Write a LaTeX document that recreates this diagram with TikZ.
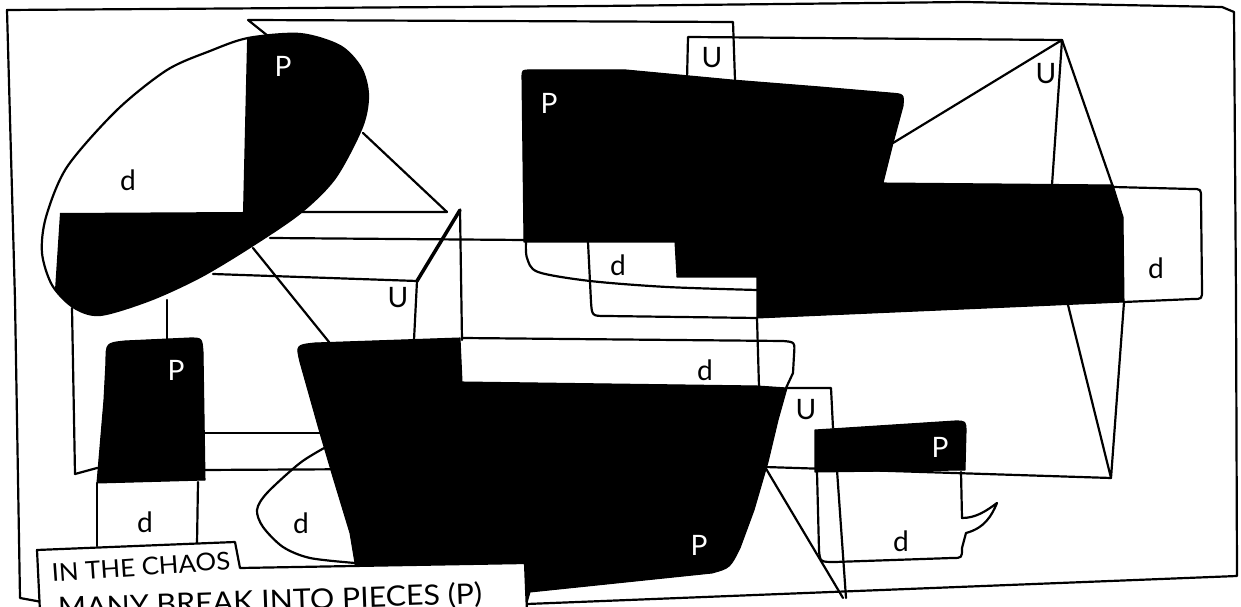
\documentclass[tikz,border=0pt]{standalone}
\usepackage{fontspec}
\setmainfont{Lato}
\tikzset{
  ink/.style={line width=1.25pt, line cap=round, line join=round},
  heavy/.style={line width=2pt, line cap=round},
  blot/.style={fill=black, draw=black, line width=0.6pt, line join=round},
  plabel/.style={text=white, font=\fontsize{16}{16}\selectfont, inner sep=0pt},
  dlabel/.style={text=black, font=\fontsize{16}{16}\selectfont, inner sep=0pt},
  caption/.style={anchor=base west, inner sep=0pt}
}
\begin{document}
\begin{tikzpicture}[x=0.02cm, y=-0.02cm]
  \useasboundingbox (0,0) rectangle (1241,607);
  \clip (0,0) rectangle (1241,607);
  \fill[white] (0,0) rectangle (1241,607);

  % outer frame
  \draw[ink] (42,602) -- (20,598) -- (15,300) -- (7,10) -- (600,6) -- (965,2)
    -- (1222,7) -- (1234,12) -- (1236,300) -- (1237,576) -- (527,604);

  % thin lines behind the pieces
  \draw[ink] (268,36) -- (248,20) -- (733,22) -- (735,80);
  \draw[ink] (687,80) -- (688,37) -- (1062,40);
  \draw[ink] (893,143) -- (1062,40) -- (1052,185);
  \draw[ink] (1062,40) -- (1113,187);
  \draw[ink] (1068,305) -- (1111,478) -- (1124,302);
  \draw[ink] (75,474) -- (97,468) -- (203,470) -- (765,467) -- (1111,478);
  \draw[ink] (203,433) -- (320,433);
  \draw[ink] (72,308) -- (75,474);
  \draw[ink] (167,300) -- (167,340);
  \draw[ink] (363,133) -- (447,212) -- (300,212);
  \draw[ink] (270,238) -- (524,240);
  \draw[ink] (213,274) -- (417,281);
  \draw[heavy] (417,281) -- (460,210);
  \draw[ink] (417,281) -- (414,340);
  \draw[ink] (460,210) -- (462,340);
  \draw[ink] (253,248) -- (329,342);
  \draw[ink] (757,318) -- (759,387);
  \draw[ink] (786,388) -- (831,388) -- (833,428);
  \draw[ink] (765,467) -- (843,598);
  \draw[ink] (837,470) -- (846,598);

  % d outlines
  \draw[ink] plot[smooth] coordinates {(526,242) (527,258) (538,272) (590,281) (667,287) (757,290)};
  \draw[ink] (588,242) -- (591,302) .. controls (592,316) .. (606,316) -- (757,318);
  \draw[ink] (1113,187) -- (1192,189) .. controls (1201,189) .. (1201,198)
    -- (1202,290) .. controls (1202,299) .. (1193,299) -- (1124,302);
  \draw[ink] (462,338) -- (783,341) .. controls (795,342) .. (794,355) -- (793,373) -- (786,388);
  \draw[ink] plot[smooth] coordinates {(326,447) (300,463) (267,493) (257,510) (263,527)
    (283,547) (310,558) (355,563)};
  \draw[ink] (97,483) -- (97,546);
  \draw[ink] (198,482) -- (197,544);
  \draw[ink] (817,472) -- (819,550) .. controls (820,562) .. (835,562) -- (952,558)
    .. controls (962,558) .. (962,548) -- (966,533)
    .. controls (985,528) and (992,515) .. (997,503)
    .. controls (985,512) and (975,518) .. (962,518) -- (961,472);

  % tilted oval
  \draw[ink] plot[smooth cycle] coordinates {(248,38) (300,34) (340,46) (361,68) (368,95)
    (362,127) (335,178) (300,213) (250,247) (200,277) (150,300) (100,315) (73,307)
    (52,285) (42,253) (46,217) (67,167) (117,110) (167,70) (210,51)};
  \begin{scope}
    \clip plot[smooth cycle] coordinates {(248,38) (300,34) (340,46) (361,68) (368,95)
      (362,127) (335,178) (300,213) (250,247) (200,277) (150,300) (100,315) (73,307)
      (52,285) (42,253) (46,217) (67,167) (117,110) (167,70) (210,51)};
    \fill (248,0) -- (420,0) -- (420,420) -- (55,420) -- (55,290) -- (60,213)
      -- (243,212) -- cycle;
  \end{scope}

  % black pieces
  \fill[blot] (524,242) -- (522,78) .. controls (522,70) .. (530,70) -- (626,70)
    -- (732,80) -- (820,87) -- (890,93) .. controls (904,94) .. (903,106)
    -- (893,143) -- (883,183) -- (1113,185) -- (1123,217) -- (1124,302)
    -- (757,318) -- (757,277) -- (677,277) -- (675,242) -- cycle;
  \fill[blot] (300,362) .. controls (296,345) .. (315,343) -- (460,338) -- (462,382)
    -- (757,386) -- (787,388) -- (778,420) -- (768,462) -- (754,510) -- (740,548)
    .. controls (730,568) .. (712,573) -- (530,592) -- (525,610) -- (356,610)
    -- (355,563) -- (350,533) -- (333,477) -- (320,433) -- cycle;
  \fill[blot] (97,483) -- (104,400) -- (106,362) .. controls (106,343) .. (125,341)
    -- (190,338) .. controls (202,338) .. (203,352) -- (205,480) -- cycle;
  \fill[blot] (815,472) -- (815,430) -- (955,421) .. controls (966,421) .. (966,432)
    -- (965,470) -- cycle;

  % labels
  \node[plabel] (p1) at (283,66) {P};
  \node[dlabel] (d1) at (128,180) {d};
  \node[plabel] (p2) at (549,103) {P};
  \node[dlabel] (u1) at (712,58) {U};
  \node[dlabel] (u2) at (1046,74) {U};
  \node[dlabel] (d2) at (618,265) {d};
  \node[dlabel] (d3) at (1156,268) {d};
  \node[dlabel] (u3) at (398,298) {U};
  \node[plabel] (p3) at (176,370) {P};
  \node[dlabel] (d4) at (705,370) {d};
  \node[dlabel] (u4) at (806,410) {U};
  \node[plabel] (p4) at (940,447) {P};
  \node[dlabel] (d5) at (145,522) {d};
  \node[dlabel] (d6) at (301,523) {d};
  \node[plabel] (p5) at (699,545) {P};
  \node[dlabel] (d7) at (901,541) {d};

  % caption box
  \fill[white] (37,550) -- (235,542) -- (240,568) -- (525,563) -- (527,612) -- (40,612) -- cycle;
  \draw[ink] (40,612) -- (37,550) -- (235,542) -- (240,568) -- (525,563) -- (527,612);
  \node[caption, font=\fontsize{14}{14}\selectfont, rotate=4, xscale=1.05] (line1)
    at (52,582) {IN THE CHAOS};
  \node[caption, font=\fontsize{16}{16}\selectfont, rotate=2, xscale=1.08] (line2)
    at (58,618) {MANY BREAK INTO PIECES (P)};
\end{tikzpicture}
\end{document}
